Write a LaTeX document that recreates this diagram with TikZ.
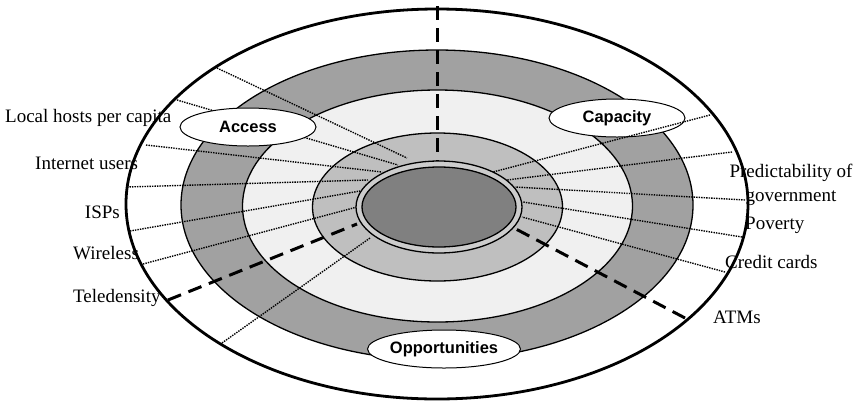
\documentclass[tikz,border=0pt]{standalone}
\usepackage{fontspec}
\setmainfont{Liberation Serif}
\setsansfont{Liberation Sans}
\usepackage{xcolor}
\usetikzlibrary{shapes.geometric}

\definecolor{darkband}{gray}{0.63}
\definecolor{lightband}{gray}{0.94}
\definecolor{midband}{gray}{0.75}
\definecolor{ringgray}{gray}{0.80}
\definecolor{coregray}{gray}{0.50}

\tikzset{
	ring/.style={draw,line width=1.3pt},
	dots/.style={line width=1.4pt,dash pattern=on 1.4pt off 1.1pt},
	bigdash/.style={line width=3pt,dash pattern=on 14pt off 8pt},
	tag/.style={ellipse,draw,fill=white,line width=1pt,inner sep=0pt,
		minimum width=136pt,minimum height=38pt,
		font=\sffamily\bfseries\fontsize{16.5}{18}\selectfont},
	lbl/.style={inner sep=0pt,font=\fontsize{19}{24}\selectfont}
}

\begin{document}
\begin{tikzpicture}[x=1pt,y=-1pt]
		\useasboundingbox (0,0) rectangle (858,405);
		%
		\draw[line width=2.8pt,fill=white] (437,204) ellipse [x radius=311,y radius=195];
		\draw[ring,fill=darkband] (437,205) ellipse [x radius=256,y radius=155];
		\draw[ring,fill=lightband] (437.5,206) ellipse [x radius=195,y radius=116];
		\draw[ring,fill=midband] (437.5,207) ellipse [x radius=125,y radius=74];
		%
		\node[lbl,anchor=west] (hosts) at (5,118) {Local hosts per capita};
		\node[lbl,anchor=west] (users) at (35,163) {Internet users};
		\node[lbl,anchor=east] (isps) at (120,212) {ISPs};
		\node[lbl,anchor=west] (wireless) at (73,253) {Wireless};
		\node[lbl,anchor=west] (tele) at (73,298) {Teledensity};
		\node[lbl,align=center] (predict) at (791,185) {Predictability of\\government};
		\node[lbl,anchor=west] (poverty) at (745,225) {Poverty};
		\node[lbl,anchor=west] (credit) at (725,262) {Credit cards};
		\node[lbl,anchor=west] (atms) at (713,317) {ATMs};
		%
		\coordinate (a) at (217,68);   \coordinate (a') at (407,158);
		\coordinate (b) at (177,100);  \coordinate (b') at (398,165);
		\coordinate (c) at (146,145);  \coordinate (c') at (382,172);
		\coordinate (d) at (127,187);  \coordinate (d') at (368,180);
		\coordinate (e) at (130,231);  \coordinate (e') at (360,191);
		\coordinate (f) at (143,264);  \coordinate (f') at (357,207);
		\coordinate (g) at (222,343);  \coordinate (g') at (370,238);
		\coordinate (r1) at (710,115); \coordinate (r1') at (493,172);
		\coordinate (r2) at (732,152); \coordinate (r2') at (507,180);
		\coordinate (r3) at (745,200); \coordinate (r3') at (515,187);
		\coordinate (r4) at (742,237); \coordinate (r4') at (523,202);
		\coordinate (r5) at (725,272); \coordinate (r5') at (522,217);
		\coordinate (top) at (437,6);     \coordinate (top') at (437,161);
		\coordinate (left) at (168,300);  \coordinate (left') at (357,224);
		\coordinate (right) at (685,318); \coordinate (right') at (514,228);
		%
		\path[dots]
		(a) edge (a')
		(b) edge (b')
		(c) edge (c')
		(d) edge (d')
		(e) edge (e')
		(f) edge (f')
		(g) edge (g')
		(r2) edge (r2')
		(r3) edge (r3')
		(r4) edge (r4')
		(r5) edge (r5');
		\path[bigdash]
		(top) edge (top')
		(left) edge (left')
		(right) edge (right');
		%
		\draw[ring,fill=ringgray] (439,207) ellipse [x radius=83,y radius=46];
		\draw[ring,fill=coregray] (439,207) ellipse [x radius=77,y radius=40];
		%
		\node[tag] (access) at (248,127) {Access};
		\node[tag] (capacity) at (617,118) {Capacity};
		\node[tag] (opps) at (444,349) {Opportunities};
		\path[dots] (r1) edge (r1');
\end{tikzpicture}
\end{document}
